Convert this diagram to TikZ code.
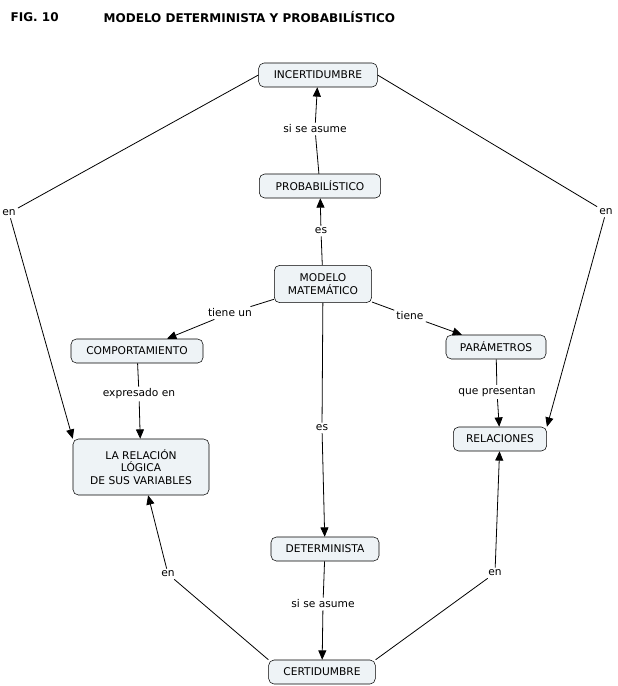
\documentclass[tikz,border=0pt]{standalone}
\usepackage{fontspec}
\setmainfont{DejaVu Sans}
\usetikzlibrary{arrows.meta,positioning}
\definecolor{boxfill}{HTML}{EEF3F6}
\begin{document}
\begin{tikzpicture}[
  x=0.75pt, y=-0.75pt,
  box/.style={rectangle, draw, rounded corners=4pt, fill=boxfill, font=\fontsize{8}{9.5}\selectfont, align=center, minimum height=18pt, inner xsep=5pt},
  lbl/.style={fill=white, font=\fontsize{8}{9.5}\selectfont, inner sep=1.5pt},
  arrow/.style={-{Triangle[length=7pt,width=6pt]}, semithick},
  link/.style={semithick}
]
  \useasboundingbox (0,0) rectangle (618,686);
  \node[anchor=west, font=\bfseries\fontsize{9}{11}\selectfont] (fig) at (6,17) {FIG. 10};
  \node[anchor=west, font=\bfseries\fontsize{9}{11}\selectfont] (title) at (99,17) {MODELO DETERMINISTA Y PROBABILÍSTICO};

  \node[box, minimum width=89pt] (incert) at (318,75) {INCERTIDUMBRE};
  \node[box, minimum width=91pt] (prob) at (320,186) {PROBABILÍSTICO};
  \node[box, minimum width=73pt, minimum height=28pt] (modelo) at (323,284) {MODELO\\MATEMÁTICO};
  \node[box, minimum width=99pt] (comport) at (137,351) {COMPORTAMIENTO};
  \node[box, minimum width=75pt] (param) at (496,347) {PARÁMETROS};
  \node[box, minimum width=102pt, minimum height=42pt] (relacion) at (141,467) {LA RELACIÓN\\LÓGICA\\DE SUS VARIABLES};
  \node[box, minimum width=70pt] (relac) at (500,439) {RELACIONES};
  \node[box, minimum width=81pt] (determ) at (325,549) {DETERMINISTA};
  \node[box, minimum width=80pt] (cert) at (322,672) {CERTIDUMBRE};

  \node[lbl] (l1) at (315,129) {si se asume};
  \node[lbl] (l2) at (321,231) {es};
  \node[lbl] (l3) at (230,313) {tiene un};
  \node[lbl] (l4) at (410,316) {tiene};
  \node[lbl] (l5) at (139,394) {expresado en};
  \node[lbl] (l6) at (497,392) {que presentan};
  \node[lbl] (l7) at (322,428) {es};
  \node[lbl] (l8) at (323,604) {si se asume};
  \node[lbl] (l9) at (168,574) {en};
  \node[lbl] (l10) at (495,573) {en};
  \node[lbl] (l11) at (9,213) {en};
  \node[lbl] (l12) at (606,212) {en};

  \draw[link] (prob) -- (l1);   \draw[arrow] (l1) -- (incert);
  \draw[link] (modelo) -- (l2); \draw[arrow] (l2) -- (prob);
  \draw[link] (modelo) -- (l3); \draw[arrow] (l3) -- (comport);
  \draw[link] (modelo) -- (l4); \draw[arrow] (l4) -- (param);
  \draw[link] (comport) -- (l5); \draw[arrow] (l5) -- (relacion);
  \draw[link] (param) -- (l6);  \draw[arrow] (l6) -- (relac);
  \draw[link] (modelo) -- (l7); \draw[arrow] (l7) -- (determ);
  \draw[link] (determ) -- (l8); \draw[arrow] (l8) -- (cert);
  \draw[link] (cert.north west) -- (l9); \draw[arrow] (l9) -- (relacion);
  \draw[link] (cert.north east) -- (l10); \draw[arrow] (l10) -- (relac);
  \draw[link] (incert.west) -- (l11); \draw[arrow] (l11) -- (relacion.north west);
  \draw[link] (incert.east) -- (l12); \draw[arrow] (l12) -- (relac.north east);
\end{tikzpicture}
\end{document}
